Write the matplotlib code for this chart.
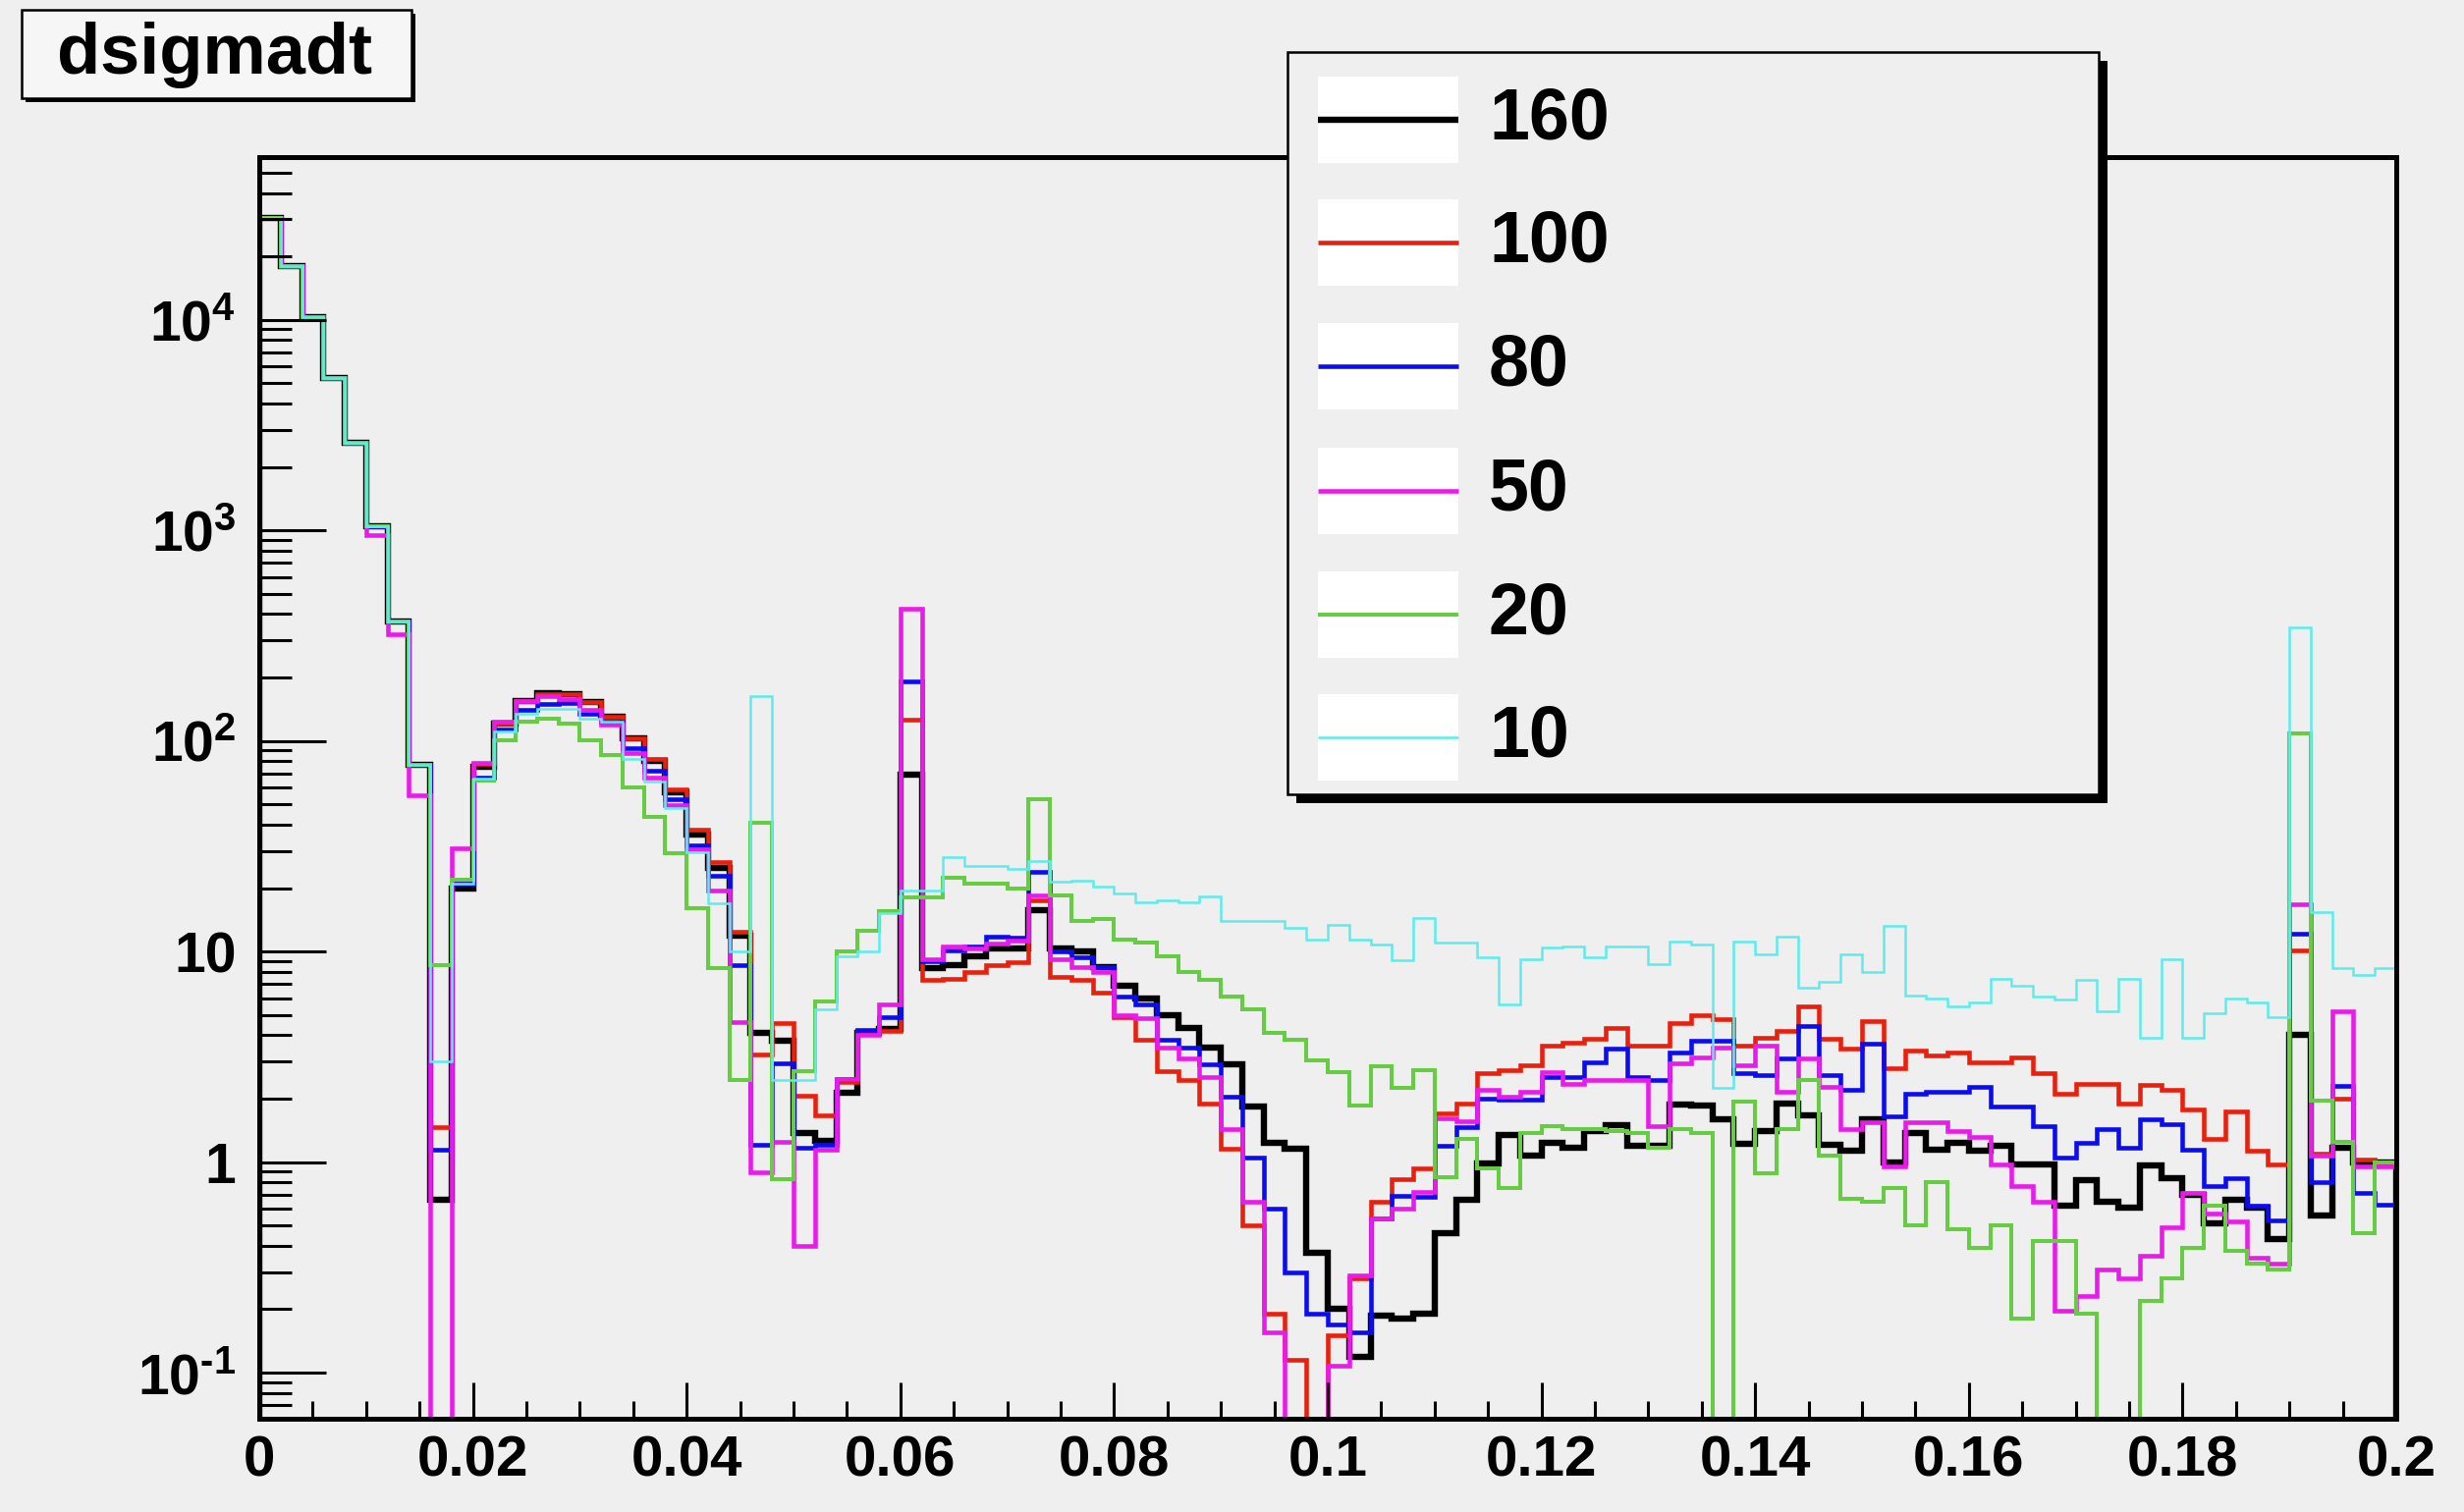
import numpy as np
import matplotlib
matplotlib.use("Agg")
import matplotlib.pyplot as plt
from matplotlib.patches import Rectangle
from matplotlib.lines import Line2D
from matplotlib.ticker import FixedLocator, FuncFormatter, LogLocator, NullFormatter

# ---------------- data ----------------
x_min, x_max, n_bins = 0.0, 0.2, 100

labels = ["160", "100", "80", "50", "20", "10"]

h160 = [30500, 18000, 10300, 5300, 2600, 1050, 370, 77, 0.66,
        20, 75, 121, 154, 168, 166, 153, 130, 103, 80, 57, 36, 25,
        11.9, 4.1, 3.77, 1.38, 1.26, 2.14, 4.1, 4.3, 69, 8.3,
        8.6, 9.5, 10.3, 10.3, 15.7, 10.3, 10.0, 8.4, 6.9, 6.0,
        5.0, 4.35, 3.5, 2.9, 1.84, 1.24, 1.16, 0.37, 0.2, 0.119,
        0.187, 0.18, 0.19, 0.46, 0.66, 0.98, 1.35, 1.07, 1.24, 1.17,
        1.4, 1.5, 1.2, 1.2, 1.88, 1.85, 1.6, 1.22, 1.41, 1.9,
        1.67, 1.21, 1.13, 1.6, 1.0, 1.38, 1.15, 1.24, 1.13, 1.2,
        0.97, 0.97, 0.62, 0.82, 0.65, 0.61, 0.96, 0.84, 0.7, 0.51,
        0.66, 0.61, 0.43, 4.0, 0.56, 1.17, 1.0, 1.0]

h100 = [30500, 18000, 10300, 5300, 2600, 1050, 370, 77, 1.47,
        21, 78, 121, 154, 166, 166, 153, 130, 103, 82, 59, 37.8, 26.5,
        12.4, 3.24, 4.55, 2.07, 1.66, 2.4, 4.2, 4.2, 126, 7.3,
        7.4, 8.0, 8.6, 8.9, 17.5, 7.6, 7.3, 6.4, 4.9, 3.8,
        2.7, 2.45, 1.9, 1.16, 0.5, 0.19, 0.115, 0, 0.15, 0.28,
        0.65, 0.83, 0.93, 1.71, 1.9, 2.63, 2.72, 2.88, 3.56, 3.69,
        3.83, 4.34, 3.56, 3.56, 4.58, 5.0, 4.75, 3.56, 3.9, 4.19,
        5.5, 3.83, 3.44, 4.66, 2.8, 3.38, 3.2, 3.3, 2.98, 2.98,
        3.14, 2.63, 2.12, 2.36, 2.36, 1.9, 2.32, 2.2, 1.77, 1.29,
        1.74, 1.13, 0.97, 10.1, 1.1, 2.0, 1.03, 0.97]

h80 = [30500, 18000, 10300, 5300, 2600, 1050, 370, 77, 1.14,
       21, 67, 113, 140, 150, 151, 135, 123, 92.5, 72, 53, 32, 22.9,
       8.6, 1.21, 2.93, 1.17, 1.21, 2.48, 4.25, 4.87, 191, 9.0,
       10.1, 10.6, 11.8, 11.6, 23.8, 10.0, 9.4, 8.4, 6.1, 5.6,
       3.8, 3.5, 2.9, 2.05, 1.05, 0.6, 0.3, 0.19, 0.17, 0.156,
       0.54, 0.69, 0.68, 1.2, 1.46, 2.0, 1.97, 1.97, 2.54, 2.54,
       2.98, 3.44, 2.54, 2.45, 3.3, 3.76, 3.76, 2.63, 2.6, 3.09,
       4.42, 2.6, 2.2, 3.63, 1.65, 2.12, 2.16, 2.16, 2.28, 1.84,
       1.84, 1.48, 1.05, 1.24, 1.43, 1.17, 1.59, 1.51, 1.15, 0.77,
       0.84, 0.62, 0.53, 12.2, 0.8, 2.3, 0.71, 0.63]

h50 = [30500, 18000, 10300, 5300, 2600, 950, 320, 55, 0,
       31, 79, 123, 154, 164, 158, 140, 119, 88, 67, 49.5, 30.5, 19.5,
       4.6, 0.89, 1.25, 0.40, 1.14, 2.48, 4.0, 5.6, 426, 9.2,
       10.6, 10.3, 10.9, 11.3, 18.5, 9.2, 8.4, 8.0, 5.0, 4.8,
       3.5, 3.1, 2.54, 1.43, 0.65, 0.156, 0, 0, 0.108, 0.29,
       0.54, 0.6, 0.72, 1.62, 1.57, 2.2, 2.05, 2.16, 2.68, 2.36,
       2.45, 2.45, 2.45, 1.48, 2.93, 3.14, 3.5, 2.88, 3.56, 2.16,
       3.09, 2.28, 1.43, 1.54, 0.95, 1.54, 1.54, 1.41, 1.31, 0.97,
       0.77, 0.65, 0.196, 0.23, 0.31, 0.28, 0.36, 0.49, 0.71, 0.57,
       0.52, 0.35, 0.33, 16.8, 1.07, 5.2, 0.95, 0.95]

h20 = [30500, 18000, 10300, 5300, 2600, 1050, 370, 77, 8.6,
       22, 65, 101, 123, 128, 121, 101, 86, 60, 43.6, 29.4, 16, 8.3,
       2.45, 41, 0.83, 2.7, 5.8, 10, 12.6, 15.5, 18, 18,
       22.5, 21, 21, 20, 53, 18.5, 13.9, 14.2, 11.4, 11,
       9.5, 8.0, 7.3, 6.1, 5.3, 4.1, 3.8, 3.04, 2.68, 1.86,
       2.85, 2.24, 2.73, 0.85, 1.29, 0.93, 0.75, 1.38, 1.48, 1.43,
       1.43, 1.41, 1.38, 1.17, 1.43, 1.38, 0, 1.94, 0.88, 1.43,
       2.45, 1.07, 0.67, 0.65, 0.75, 0.5, 0.8, 0.48, 0.39, 0.5,
       0.18, 0.42, 0.42, 0.19, 0, 0, 0.22, 0.28, 0.39, 0.62,
       0.38, 0.33, 0.31, 108, 1.95, 1.25, 0.46, 1.0]

h10 = [30500, 18000, 10300, 5300, 2600, 1050, 370, 77, 3.0,
       21, 66, 111, 135, 142, 142, 128, 123, 82, 64, 47.8, 29.5, 16.9,
       10, 163, 2.45, 2.45, 5.3, 9.5, 10, 15.2, 19.5, 19.5,
       28, 25.5, 25.5, 24.7, 26.9, 21.4, 21.7, 20.3, 18.8, 17.2,
       17.5, 17.2, 18.2, 13.9, 13.9, 13.9, 12.9, 11.4, 13.4, 11.4,
       10.8, 9.1, 14.4, 11, 11, 9.4, 5.6, 9.2, 10.4, 10.6,
       9.4, 10.6, 10.6, 8.7, 11.2, 10.8, 2.24, 11.2, 9.7, 11.7,
       6.7, 7.2, 9.7, 8.0, 13.3, 6.2, 6.0, 5.5, 5.7, 7.4,
       6.9, 6.1, 5.9, 7.3, 5.2, 7.4, 3.9, 9.2, 3.9, 5.1,
       6.0, 5.7, 4.9, 345, 15.3, 8.3, 7.7, 8.3]

x_major = [0, 0.02, 0.04, 0.06, 0.08, 0.1, 0.12, 0.14, 0.16, 0.18, 0.2]
x_major_labels = ["0", "0.02", "0.04", "0.06", "0.08", "0.1", "0.12", "0.14", "0.16", "0.18", "0.2"]
y_major = [1e-1, 1, 10, 1e2, 1e3, 1e4]
y_min, y_max = 0.0604, 59200
title = "dsigmadt"

# ---------------- style ----------------
BG = "#efefef"
colors = ["#000000", "#e8200e", "#0c0cf0", "#e81ce8", "#66cc44", "#5cecec"]
widths = [4.6, 3.3, 3.3, 3.3, 2.9, 1.8]

plt.rcParams["font.family"] = ["Liberation Sans", "DejaVu Sans"]
plt.rcParams["font.weight"] = "bold"
plt.rcParams["mathtext.fontset"] = "custom"
plt.rcParams["mathtext.rm"] = "Liberation Sans:bold"
plt.rcParams["mathtext.bf"] = "Liberation Sans:bold"
plt.rcParams["mathtext.it"] = "Liberation Sans:bold"
plt.rcParams["mathtext.default"] = "bf"

W, H = 2509, 1540
fig = plt.figure(figsize=(W / 100, H / 100), dpi=100, facecolor=BG)
ax_l, ax_r, ax_t, ax_b = 264, 2440, 160, 1445
ax = fig.add_axes([ax_l / W, 1 - ax_b / H, (ax_r - ax_l) / W, (ax_b - ax_t) / H])
ax.set_facecolor(BG)

edges = np.linspace(x_min, x_max, n_bins + 1)
floor = 1e-4
series = [h160, h100, h80, h50, h20, h10]
for vals, c, lw in zip(series, colors, widths):
    v = np.asarray(vals, dtype=float)
    v = np.where(v > 0, v, floor)
    st = ax.stairs(v, edges, baseline=floor, color=c, linewidth=lw, fill=False)
    st.set_joinstyle("miter")
    st.set_capstyle("butt")

ax.set_xlim(x_min, x_max)
ax.set_yscale("log")
ax.set_ylim(y_min, y_max)

# x ticks
ax.xaxis.set_major_locator(FixedLocator(x_major))
ax.set_xticklabels(x_major_labels)
x_minor = [m for m in np.arange(0, 0.2001, 0.005) if min(abs(m - t) for t in x_major) > 1e-6]
ax.xaxis.set_minor_locator(FixedLocator(x_minor))
ax.tick_params(axis="x", which="major", direction="in", length=27, width=2.2,
               pad=12, labelsize=42, top=False, bottom=True)
ax.tick_params(axis="x", which="minor", direction="in", length=13, width=2.2, top=False)


# y ticks
def yfmt(val, pos):
    e = int(round(np.log10(val)))
    if e == 0:
        return "1"
    if e == 1:
        return "10"
    if e < 0:
        return r"$10^{\text{-}%d}$" % (-e)
    return r"$10^{%d}$" % e


ax.yaxis.set_major_locator(FixedLocator(y_major))
ax.yaxis.set_major_formatter(FuncFormatter(yfmt))
ax.yaxis.set_minor_locator(LogLocator(base=10, subs=np.arange(2, 10), numticks=20))
ax.yaxis.set_minor_formatter(NullFormatter())
ax.tick_params(axis="y", which="major", direction="in", length=49, width=2.2,
               pad=17, labelsize=41, right=False)
ax.tick_params(axis="y", which="minor", direction="in", length=24, width=2.2, right=False)

for sp in ax.spines.values():
    sp.set_linewidth(3.6)
    sp.set_color("black")
    sp.set_zorder(5)


# ---------------- title box ----------------
def fig_rect(x0, y0, x1, y1, **kw):
    return Rectangle((x0 / W, 1 - y1 / H), (x1 - x0) / W, (y1 - y0) / H,
                     transform=fig.transFigure, **kw)


fig.add_artist(fig_rect(26, 14, 423, 104, facecolor="black", edgecolor="none", zorder=10))
fig.add_artist(fig_rect(22, 10, 419, 100, facecolor="#f6f6f6", edgecolor="black", linewidth=1.8, zorder=11))
fig.text(219 / W, 1 - 56 / H, title, ha="center", va="center", fontsize=52,
         fontweight="bold", zorder=12)

# ---------------- legend ----------------
lx0, ly0, lx1, ly1 = 1311, 53, 2137, 809
fig.add_artist(fig_rect(lx0 + 9, ly0 + 9, lx1 + 9, ly1 + 9, facecolor="black", edgecolor="none", zorder=10))
fig.add_artist(fig_rect(lx0, ly0, lx1, ly1, facecolor=BG, edgecolor="black", linewidth=1.8, zorder=11))
entry_y = [122, 247, 373, 500, 626, 751]
for lab, c, lw, ey in zip(labels, colors, widths, entry_y):
    fig.add_artist(fig_rect(1342, ey - 44, 1485, ey + 44, facecolor="white", edgecolor="none", zorder=12))
    fig.add_artist(Line2D([1342 / W, 1485 / W], [1 - ey / H, 1 - ey / H], transform=fig.transFigure,
                          color=c, linewidth=lw, solid_capstyle="butt", zorder=13))
    fig.text(1516 / W, 1 - ey / H, lab, ha="left", va="center", fontsize=53,
             fontweight="bold", zorder=13)

fig.savefig("out.png", dpi=100, facecolor=BG)
